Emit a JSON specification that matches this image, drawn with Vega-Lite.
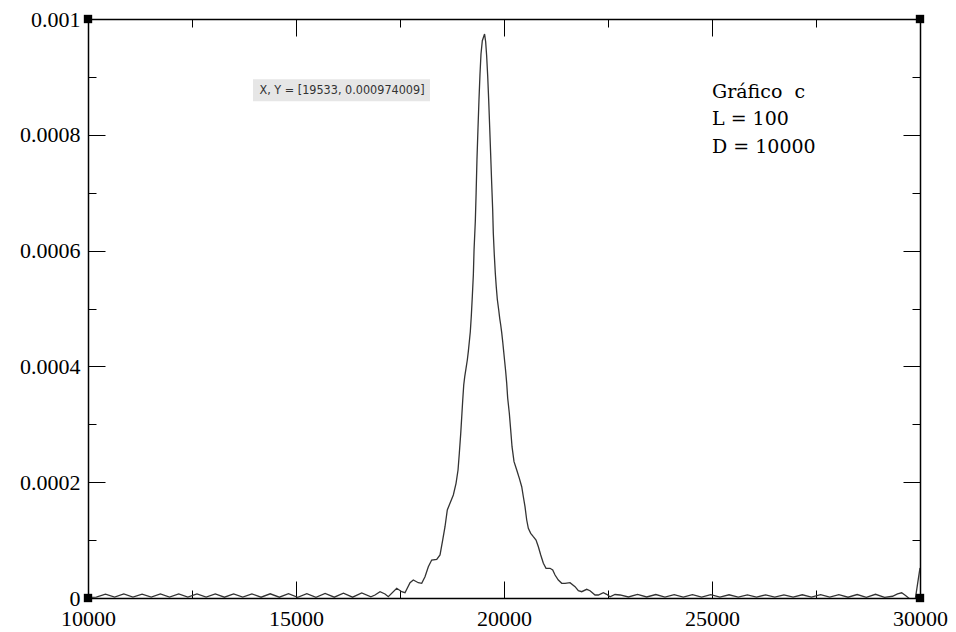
{
  "$schema": "https://vega.github.io/schema/vega-lite/v6.json",
  "width": 832,
  "height": 579,
  "autosize": {"type": "none"},
  "padding": {"left": 88, "top": 19, "right": 36, "bottom": 34},
  "background": "white",
  "config": {"view": {"stroke": null}},
  "datasets": {
    "curve": [
      {"x": 10000, "y": 1.0e-6}, {"x": 10200, "y": 1.6e-6}, {"x": 10420, "y": 6.8e-6}, {"x": 10640, "y": 1.6e-6},
      {"x": 10860, "y": 6.9e-6}, {"x": 11080, "y": 1.6e-6}, {"x": 11300, "y": 6.8e-6}, {"x": 11520, "y": 1.5e-6},
      {"x": 11740, "y": 7.0e-6}, {"x": 11960, "y": 1.6e-6}, {"x": 12180, "y": 6.9e-6}, {"x": 12400, "y": 1.5e-6},
      {"x": 12620, "y": 7.1e-6}, {"x": 12840, "y": 1.6e-6}, {"x": 13060, "y": 7.0e-6}, {"x": 13280, "y": 1.4e-6},
      {"x": 13500, "y": 7.2e-6}, {"x": 13720, "y": 1.5e-6}, {"x": 13940, "y": 7.1e-6}, {"x": 14160, "y": 1.4e-6},
      {"x": 14380, "y": 7.3e-6}, {"x": 14600, "y": 1.4e-6}, {"x": 14820, "y": 7.4e-6}, {"x": 15040, "y": 1.3e-6},
      {"x": 15260, "y": 7.6e-6}, {"x": 15480, "y": 1.3e-6}, {"x": 15700, "y": 7.9e-6}, {"x": 15920, "y": 1.4e-6},
      {"x": 16140, "y": 8.3e-6}, {"x": 16360, "y": 1.4e-6}, {"x": 16580, "y": 8.8e-6}, {"x": 16800, "y": 2.2e-6},
      {"x": 16899, "y": 5.2e-6}, {"x": 17020, "y": 10.9e-6}, {"x": 17140, "y": 6.9e-6}, {"x": 17219, "y": 2.2e-6},
      {"x": 17421, "y": 16.8e-6}, {"x": 17541, "y": 10.9e-6}, {"x": 17620, "y": 9.2e-6}, {"x": 17741, "y": 26.4e-6},
      {"x": 17820, "y": 31.1e-6}, {"x": 17940, "y": 26.4e-6}, {"x": 18022, "y": 25.4e-6}, {"x": 18101, "y": 36.8e-6},
      {"x": 18181, "y": 54.1e-6}, {"x": 18262, "y": 65.6e-6}, {"x": 18383, "y": 66.8e-6}, {"x": 18462, "y": 74.3e-6},
      {"x": 18527, "y": 100.2e-6}, {"x": 18582, "y": 123.1e-6}, {"x": 18637, "y": 152.0e-6}, {"x": 18702, "y": 163.5e-6},
      {"x": 18782, "y": 177.9e-6}, {"x": 18847, "y": 198.1e-6}, {"x": 18895, "y": 221.1e-6}, {"x": 18926, "y": 249.9e-6},
      {"x": 18960, "y": 284.4e-6}, {"x": 18984, "y": 313.1e-6}, {"x": 19008, "y": 341.9e-6}, {"x": 19032, "y": 367.9e-6},
      {"x": 19056, "y": 382.2e-6}, {"x": 19087, "y": 396.7e-6}, {"x": 19118, "y": 411.0e-6}, {"x": 19142, "y": 425.4e-6},
      {"x": 19166, "y": 442.6e-6}, {"x": 19190, "y": 459.9e-6}, {"x": 19214, "y": 487.0e-6}, {"x": 19238, "y": 520.3e-6},
      {"x": 19263, "y": 557.8e-6}, {"x": 19280, "y": 601.0e-6}, {"x": 19311, "y": 651.6e-6}, {"x": 19330, "y": 700.0e-6},
      {"x": 19350, "y": 757.0e-6}, {"x": 19375, "y": 811.7e-6}, {"x": 19399, "y": 861.3e-6}, {"x": 19423, "y": 905.0e-6},
      {"x": 19447, "y": 939.5e-6}, {"x": 19479, "y": 962.5e-6}, {"x": 19533, "y": 974.0e-6}, {"x": 19559, "y": 960.7e-6},
      {"x": 19583, "y": 936.0e-6}, {"x": 19608, "y": 901.5e-6}, {"x": 19632, "y": 860.0e-6}, {"x": 19656, "y": 812.9e-6},
      {"x": 19680, "y": 765.1e-6}, {"x": 19704, "y": 716.2e-6}, {"x": 19728, "y": 670.1e-6}, {"x": 19743, "y": 629.8e-6},
      {"x": 19767, "y": 592.4e-6}, {"x": 19791, "y": 560.8e-6}, {"x": 19815, "y": 536.6e-6}, {"x": 19839, "y": 515.9e-6},
      {"x": 19873, "y": 497.4e-6}, {"x": 19897, "y": 483.0e-6}, {"x": 19921, "y": 471.5e-6}, {"x": 19945, "y": 458.2e-6},
      {"x": 19969, "y": 442.6e-6}, {"x": 19993, "y": 425.4e-6}, {"x": 20017, "y": 408.1e-6}, {"x": 20041, "y": 390.8e-6},
      {"x": 20065, "y": 370.8e-6}, {"x": 20089, "y": 344.9e-6}, {"x": 20128, "y": 319.0e-6}, {"x": 20161, "y": 290.1e-6},
      {"x": 20193, "y": 261.3e-6}, {"x": 20241, "y": 235.4e-6}, {"x": 20306, "y": 221.1e-6}, {"x": 20369, "y": 206.7e-6},
      {"x": 20426, "y": 192.2e-6}, {"x": 20465, "y": 174.9e-6}, {"x": 20505, "y": 157.7e-6}, {"x": 20546, "y": 134.7e-6},
      {"x": 20585, "y": 120.4e-6}, {"x": 20642, "y": 111.7e-6}, {"x": 20705, "y": 105.9e-6}, {"x": 20770, "y": 100.2e-6},
      {"x": 20826, "y": 88.6e-6}, {"x": 20883, "y": 74.3e-6}, {"x": 20946, "y": 59.9e-6}, {"x": 21010, "y": 51.3e-6},
      {"x": 21106, "y": 51.3e-6}, {"x": 21171, "y": 48.4e-6}, {"x": 21227, "y": 39.7e-6}, {"x": 21306, "y": 31.1e-6},
      {"x": 21388, "y": 25.4e-6}, {"x": 21467, "y": 25.4e-6}, {"x": 21587, "y": 26.4e-6}, {"x": 21708, "y": 19.5e-6},
      {"x": 21787, "y": 12.6e-6}, {"x": 21868, "y": 10.9e-6}, {"x": 21988, "y": 15.0e-6}, {"x": 22068, "y": 12.6e-6},
      {"x": 22188, "y": 5.2e-6}, {"x": 22268, "y": 5.2e-6}, {"x": 22388, "y": 9.2e-6}, {"x": 22468, "y": 6.4e-6},
      {"x": 22549, "y": 2.2e-6}, {"x": 22669, "y": 6.0e-6}, {"x": 22789, "y": 5.2e-6}, {"x": 22990, "y": 1.8e-6},
      {"x": 23210, "y": 6.2e-6}, {"x": 23430, "y": 1.8e-6}, {"x": 23650, "y": 6.0e-6}, {"x": 23870, "y": 1.7e-6},
      {"x": 24090, "y": 5.9e-6}, {"x": 24310, "y": 1.7e-6}, {"x": 24530, "y": 5.8e-6}, {"x": 24750, "y": 1.6e-6},
      {"x": 24970, "y": 5.7e-6}, {"x": 25190, "y": 1.6e-6}, {"x": 25410, "y": 5.6e-6}, {"x": 25630, "y": 1.6e-6},
      {"x": 25850, "y": 5.5e-6}, {"x": 26070, "y": 1.5e-6}, {"x": 26290, "y": 5.5e-6}, {"x": 26510, "y": 1.5e-6},
      {"x": 26730, "y": 5.5e-6}, {"x": 26950, "y": 1.5e-6}, {"x": 27170, "y": 5.6e-6}, {"x": 27390, "y": 1.4e-6},
      {"x": 27610, "y": 5.7e-6}, {"x": 27830, "y": 1.4e-6}, {"x": 28050, "y": 5.8e-6}, {"x": 28270, "y": 1.3e-6},
      {"x": 28490, "y": 6.0e-6}, {"x": 28710, "y": 1.2e-6}, {"x": 28930, "y": 6.4e-6}, {"x": 29150, "y": 1.1e-6},
      {"x": 29340, "y": 3.0e-6}, {"x": 29460, "y": 7.0e-6}, {"x": 29560, "y": 9.0e-6}, {"x": 29660, "y": 4.0e-6},
      {"x": 29760, "y": -2.0e-6}, {"x": 29880, "y": -5.0e-6}, {"x": 30000, "y": 52.0e-6}
    ],
    "corners": [
      {"x": 10000, "y": 0}, {"x": 10000, "y": 0.001}, {"x": 30000, "y": 0.001}, {"x": 30000, "y": 0}
    ],
    "notes": [
      {"x": 25000, "y": 0.0008636, "t": "Gráfico\u00a0 c"},
      {"x": 25000, "y": 0.000817, "t": "L = 100"},
      {"x": 25000, "y": 0.000769, "t": "D = 10000"}
    ],
    "box": [
      {"x": 13966, "x2": 18221, "y": 0.000858, "y2": 0.000896, "xc": 16106, "yc": 0.0008774, "t": "X, Y = [19533, 0.000974009]"}
    ]
  },
  "layer": [
    {
      "data": {"name": "box"},
      "mark": {"type": "rect", "color": "#e6e6e6"},
      "encoding": {
        "x": {"field": "x", "type": "quantitative", "scale": {"domain": [10000, 30000], "nice": false, "zero": false}, "axis": null},
        "x2": {"field": "x2"},
        "y": {"field": "y", "type": "quantitative", "scale": {"domain": [0, 0.001], "nice": false, "zero": false}, "axis": null},
        "y2": {"field": "y2"}
      }
    },
    {
      "data": {"name": "box"},
      "mark": {"type": "text", "font": "DejaVu Sans Condensed, Liberation Sans, Arimo, sans-serif", "fontSize": 12.5, "color": "#333333", "align": "center", "baseline": "middle"},
      "encoding": {
        "x": {"field": "xc", "type": "quantitative", "axis": null},
        "y": {"field": "yc", "type": "quantitative", "axis": null},
        "text": {"field": "t"}
      }
    },
    {
      "data": {"name": "curve"},
      "mark": {"type": "line", "color": "#333333", "strokeWidth": 1.3, "clip": true},
      "encoding": {
        "x": {
          "field": "x", "type": "quantitative",
          "axis": {
            "orient": "bottom", "title": null, "grid": false,
            "values": [10000, 12500, 15000, 17500, 20000, 22500, 25000, 27500, 30000],
            "format": "d",
            "labelExpr": "datum.value % 5000 === 0 ? datum.label : ''",
            "domainColor": "black", "domainWidth": 1.5,
            "tickColor": "black", "tickWidth": 1,
            "tickSize": {"condition": {"test": "datum.value % 5000 === 0", "value": -17}, "value": -8},
            "labelFont": "Liberation Serif", "labelFontSize": 22, "labelColor": "black",
            "labelPadding": {"condition": {"test": "datum.value % 5000 === 0", "value": 27}, "value": 18},
            "labelFlush": false, "labelOverlap": false, "labelBaseline": "top"
          }
        },
        "y": {
          "field": "y", "type": "quantitative",
          "axis": {
            "orient": "left", "title": null, "grid": false,
            "values": [0, 0.0001, 0.0002, 0.0003, 0.0004, 0.0005, 0.0006, 0.0007, 0.0008, 0.0009, 0.001],
            "labelExpr": "round(datum.value*10000) % 2 === 0 ? toString(round(datum.value*10000)/10000) : ''",
            "domainColor": "black", "domainWidth": 1.5,
            "tickColor": "black", "tickWidth": 1,
            "tickSize": {"condition": {"test": "round(datum.value*10000) % 2 === 0", "value": -17}, "value": -8},
            "labelFont": "Liberation Serif", "labelFontSize": 22, "labelColor": "black",
            "labelPadding": {"condition": {"test": "round(datum.value*10000) % 2 === 0", "value": 25}, "value": 16},
            "labelFlush": false, "labelOverlap": false, "labelBaseline": "middle"
          }
        }
      }
    },
    {
      "data": {"name": "notes"},
      "mark": {"type": "text", "font": "DejaVu Serif", "fontSize": 19, "color": "black", "align": "left", "baseline": "alphabetic"},
      "encoding": {
        "x": {"field": "x", "type": "quantitative", "axis": null},
        "y": {"field": "y", "type": "quantitative", "axis": null},
        "text": {"field": "t"}
      }
    },
    {
      "data": {"name": "corners"},
      "mark": {"type": "point", "shape": "square", "filled": true, "color": "black", "size": 70, "opacity": 1},
      "encoding": {
        "x": {
          "field": "x", "type": "quantitative",
          "axis": {
            "orient": "top", "title": null, "grid": false, "labels": false,
            "values": [10000, 12500, 15000, 17500, 20000, 22500, 25000, 27500, 30000],
            "domainColor": "black", "domainWidth": 1.5,
            "tickColor": "black", "tickWidth": 1,
            "tickSize": {"condition": {"test": "datum.value % 5000 === 0", "value": -17}, "value": -8}
          }
        },
        "y": {
          "field": "y", "type": "quantitative",
          "axis": {
            "orient": "right", "title": null, "grid": false, "labels": false,
            "values": [0, 0.0001, 0.0002, 0.0003, 0.0004, 0.0005, 0.0006, 0.0007, 0.0008, 0.0009, 0.001],
            "domainColor": "black", "domainWidth": 1.5,
            "tickColor": "black", "tickWidth": 1,
            "tickSize": {"condition": {"test": "round(datum.value*10000) % 2 === 0", "value": -17}, "value": -8}
          }
        }
      }
    }
  ],
  "resolve": {"axis": {"x": "independent", "y": "independent"}}
}
